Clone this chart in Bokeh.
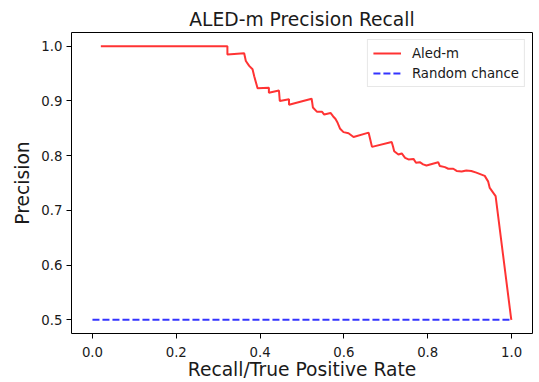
from bokeh.plotting import figure
from bokeh.models import FixedTicker, Range1d
from bokeh.embed import file_html
from bokeh.resources import INLINE

# ---- data ----
recall = [0.020, 0.322, 0.322, 0.362, 0.366, 0.374, 0.382, 0.386, 0.394, 0.421,
          0.421, 0.445, 0.447, 0.469, 0.469, 0.523, 0.526, 0.536, 0.548, 0.553,
          0.568, 0.574, 0.580, 0.585, 0.591, 0.599, 0.611, 0.623, 0.659, 0.663,
          0.667, 0.714, 0.717, 0.720, 0.730, 0.738, 0.746, 0.754, 0.766, 0.772,
          0.781, 0.789, 0.797, 0.825, 0.829, 0.841, 0.849, 0.861, 0.869, 0.881,
          0.892, 0.904, 0.916, 0.936, 0.944, 0.948, 0.962, 0.999, 1.000]
precision = [1.000, 1.000, 0.985, 0.987, 0.973, 0.964, 0.958, 0.945, 0.923, 0.924,
             0.915, 0.919, 0.900, 0.903, 0.893, 0.904, 0.888, 0.880, 0.880, 0.875,
             0.878, 0.872, 0.867, 0.860, 0.849, 0.843, 0.841, 0.834, 0.842, 0.829,
             0.816, 0.825, 0.817, 0.808, 0.802, 0.804, 0.796, 0.793, 0.794, 0.787,
             0.788, 0.784, 0.782, 0.788, 0.781, 0.779, 0.776, 0.776, 0.772, 0.771,
             0.773, 0.772, 0.769, 0.763, 0.753, 0.741, 0.726, 0.502, 0.500]
chance_x = [0.0, 1.0]
chance_y = [0.5, 0.5]
x_ticks = [0.0, 0.2, 0.4, 0.6, 0.8, 1.0]
y_ticks = [0.5, 0.6, 0.7, 0.8, 0.9, 1.0]

FONT = "DejaVu Sans"
TXT = "#1a1a1a"

p = figure(width=539, height=382, output_backend="svg", toolbar_location=None,
           x_range=Range1d(-0.05, 1.05), y_range=Range1d(0.475, 1.025),
           min_border_left=71, min_border_right=7, min_border_top=32, min_border_bottom=48,
           title="ALED-m Precision Recall")

p.title.text_font = FONT
p.title.text_font_size = "18.7px"
p.title.text_font_style = "normal"
p.title.text_color = TXT
p.title.align = "center"
p.title.standoff = 6

p.line(recall, precision, line_color="red", line_alpha=0.8, line_width=2, legend_label="Aled-m")
p.line(chance_x, chance_y, line_color="blue", line_alpha=0.8, line_width=2, line_dash="7 3",
       legend_label="Random chance")

p.xgrid.visible = False
p.ygrid.visible = False
p.outline_line_color = "black"
p.outline_line_width = 1
p.outline_line_alpha = 1

for ax in (p.xaxis[0], p.yaxis[0]):
    ax.axis_line_color = None
    ax.major_tick_line_color = "black"
    ax.major_tick_line_width = 1
    ax.major_tick_out = 5
    ax.major_tick_in = 0
    ax.minor_tick_line_color = None
    ax.major_label_text_font = FONT
    ax.major_label_text_font_size = "13.3px"
    ax.major_label_text_color = TXT
    ax.axis_label_text_font = FONT
    ax.axis_label_text_font_size = "18.7px"
    ax.axis_label_text_font_style = "normal"
    ax.axis_label_text_color = TXT

p.xaxis.ticker = FixedTicker(ticks=x_ticks)
p.yaxis.ticker = FixedTicker(ticks=y_ticks)
p.xaxis.major_label_overrides = {t: f"{t:.1f}" for t in x_ticks}
p.yaxis.major_label_overrides = {t: f"{t:.1f}" for t in y_ticks}
p.xaxis.axis_label = "Recall/True Positive Rate"
p.yaxis.axis_label = "Precision"
p.xaxis.major_label_standoff = 8
p.xaxis.axis_label_standoff = -1
p.yaxis.major_label_standoff = 4
p.yaxis.axis_label_standoff = 5

lg = p.legend[0]
lg.location = "top_right"
lg.margin = 7
lg.padding = 5
lg.spacing = 4
lg.label_height = 16
lg.glyph_height = 16
lg.glyph_width = 28
lg.label_standoff = 11
lg.label_text_font = FONT
lg.label_text_font_size = "13.3px"
lg.label_text_color = TXT
lg.border_line_color = "#d0d0d0"
lg.border_line_width = 1
lg.background_fill_alpha = 0.8

open("out.html", "w").write(file_html(p, INLINE))
